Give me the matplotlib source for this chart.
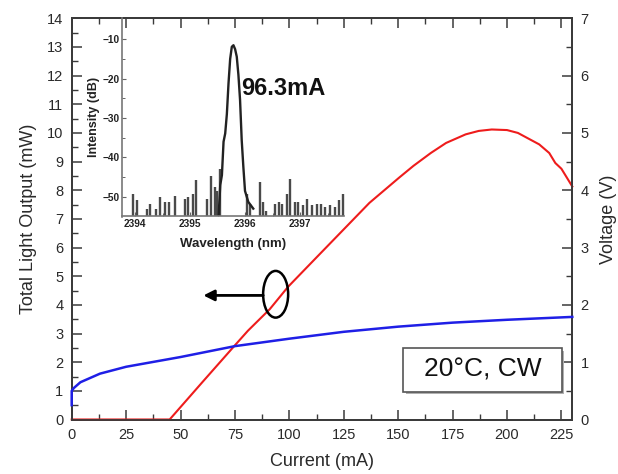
import matplotlib
matplotlib.use("Agg")
import matplotlib.pyplot as plt
from matplotlib.patches import Ellipse, Rectangle

plt.rcParams['font.family'] = ['Liberation Sans', 'DejaVu Sans']

# ---------------- data ----------------
light_current = [0, 45, 60, 75, 81, 91, 99.4, 112.4, 121.6, 136.8, 150.6, 157, 165, 172, 181, 187, 193, 200,
                 205, 214.8, 219.4, 222.2, 225, 230]
light_power = [0, 0, 1.3, 2.59, 3.1, 3.85, 4.63, 5.65, 6.37, 7.56, 8.45, 8.85, 9.3, 9.65, 9.95, 10.07, 10.12,
               10.1, 10.0, 9.6, 9.3, 8.95, 8.75, 8.13]

volt_current = [0, 0, 1, 4, 13, 25, 50, 75, 100, 125, 150, 175, 200, 230]
voltage = [0.25, 0.5, 0.55, 0.65, 0.8, 0.92, 1.09, 1.28, 1.41, 1.53, 1.62, 1.69, 1.74, 1.79]

peak_wl = [2395.52, 2395.55, 2395.58, 2395.61, 2395.64, 2395.67, 2395.70, 2395.73, 2395.76,
           2395.79, 2395.82, 2395.85, 2395.88, 2395.91, 2395.94, 2395.97, 2396.00, 2396.06, 2396.15]
peak_db = [-55, -47, -44.5, -36, -33.9, -29, -21.2, -15, -11.9, -11.5, -12.5, -14.4, -19, -25.4,
           -35.6, -42.4, -48.5, -51.3, -53]

noise_wl = [2393.97, 2394.03, 2394.21, 2394.27, 2394.39, 2394.45, 2394.55, 2394.61, 2394.73, 2394.91,
            2394.97, 2395.06, 2395.10, 2395.30, 2395.39, 2395.45, 2395.49, 2395.55, 2396.03, 2396.09,
            2396.27, 2396.33, 2396.39, 2396.55, 2396.61, 2396.67, 2396.76, 2396.82, 2396.91, 2396.97,
            2397.06, 2397.12, 2397.21, 2397.30, 2397.39, 2397.45, 2397.55, 2397.64, 2397.70, 2397.79]
noise_db = [-49.2, -50.9, -53.1, -51.8, -53.1, -50.1, -51.4, -51.4, -49.7, -50.5,
            -50.1, -49.2, -45.8, -50.5, -44.6, -47.5, -48.4, -42.9, -49.2, -51.8,
            -46.3, -51.4, -53.5, -51.8, -51.4, -51.8, -49.2, -45.4, -51.4, -51.4,
            -52.2, -50.5, -52.2, -51.8, -51.8, -52.6, -52.2, -52.6, -50.9, -49.2]

x_ticks = [0, 25, 50, 75, 100, 125, 150, 175, 200, 225]
y_ticks = list(range(0, 15))
v_ticks = list(range(0, 8))
inset_xticks = [2394, 2395, 2396, 2397]
inset_yticks = [-10, -20, -30, -40, -50]

# ---------------- figure ----------------
W, H = 618, 474
fig = plt.figure(figsize=(W / 100, H / 100), dpi=100)
ax = fig.add_axes([71.7 / W, 1 - 419.5 / H, (572.3 - 71.7) / W, (419.5 - 18.3) / H])
ax2 = ax.twinx()

spine_c = '#3a3a3a'
txt_c = '#2a2a2a'

ax.plot(light_current, light_power, color='#ee1c1c', lw=1.5, zorder=3, clip_on=False)
ax2.plot(volt_current, voltage, color='#1f1fe6', lw=1.8, zorder=3, clip_on=False)

ax.set_xlim(0, 230)
ax.set_ylim(0, 14)
ax2.set_ylim(0, 7)
ax.set_xticks(x_ticks)
ax.set_xticks([t + 12.5 for t in x_ticks], minor=True)
ax.set_yticks(y_ticks)
ax.set_yticks([t + 0.5 for t in y_ticks[:-1]], minor=True)
ax2.set_yticks(v_ticks)
ax2.set_yticks([t + 0.5 for t in v_ticks[:-1]], minor=True)
ax.set_xlim(0, 230)

for a in (ax, ax2):
    for s in a.spines.values():
        s.set_color(spine_c)
        s.set_linewidth(1.3)
ax.tick_params(axis='both', which='major', direction='in', length=7, width=1.1, color=spine_c,
               labelsize=10.5, labelcolor=txt_c, top=True, pad=6)
ax.tick_params(axis='both', which='minor', direction='in', length=4, width=1.0, color=spine_c, top=True)
ax2.tick_params(axis='y', which='major', direction='in', length=7, width=1.1, color=spine_c,
                labelsize=10.5, labelcolor=txt_c, pad=6)
ax2.tick_params(axis='y', which='minor', direction='in', length=4, width=1.0, color=spine_c)

ax.set_xlabel('Current (mA)', fontsize=13, color=txt_c, labelpad=8)
ax.set_ylabel('Total Light Output (mW)', fontsize=13, color=txt_c, labelpad=7)
ax2.set_ylabel('Voltage (V)', fontsize=13, color=txt_c, labelpad=8)

# ellipse + arrow annotation
ax.add_patch(Ellipse((93.7, 4.37), 11.5, 1.63, fill=False, edgecolor='black', lw=1.8, zorder=4))
ax.annotate('', xy=(60.5, 4.33), xytext=(88.0, 4.33),
            arrowprops=dict(arrowstyle='-|>', lw=2.0, color='black', mutation_scale=16,
                            shrinkA=0, shrinkB=0), zorder=4)

# label box
bx0, by0, bx1, by1 = 403.3, 348.3, 561.7, 391.7
fig.patches.append(Rectangle((bx0 / W + 2.5 / W, 1 - by1 / H - 2.5 / H), (bx1 - bx0) / W, (by1 - by0) / H,
                             transform=fig.transFigure, facecolor='#b0b0b0', edgecolor='none', zorder=5))
fig.patches.append(Rectangle((bx0 / W, 1 - by1 / H), (bx1 - bx0) / W, (by1 - by0) / H,
                             transform=fig.transFigure, facecolor='white', edgecolor='#555555',
                             lw=1.2, zorder=6))
fig.text((bx0 + bx1) / 2 / W, 1 - (by0 + by1) / 2 / H, '20\u00b0C, CW', fontsize=19, color='#111111',
         ha='center', va='center', zorder=7)

# ---------------- inset ----------------
ins = fig.add_axes([122.3 / W, 1 - 216.5 / H, (344.5 - 122.3) / W, (216.5 - 18.3) / H])
ins.patch.set_alpha(0)
ins.vlines(noise_wl, -55, noise_db, color='#4a4a4a', lw=1.7)
ins.plot(peak_wl, peak_db, color='#222222', lw=1.7)
ins.set_xlim(2393.769, 2397.809)
ins.set_ylim(-55, -4.66)
ins.set_xticks(inset_xticks)
ins.set_xticks([t + 0.5 for t in inset_xticks], minor=True)
ins.set_yticks(inset_yticks)
ins.set_yticks([t - 5 for t in inset_yticks[:-1]], minor=True)
ins.spines['top'].set_visible(False)
ins.spines['right'].set_visible(False)
for s in ('left', 'bottom'):
    ins.spines[s].set_color('#777777')
    ins.spines[s].set_linewidth(1.2)
ins.tick_params(axis='both', which='major', direction='in', length=3, width=0.8, color='#666666',
                labelsize=7.3, labelcolor='#222222', pad=2)
ins.tick_params(axis='both', which='minor', direction='in', length=2, width=0.7, color='#666666')
for lab in ins.get_xticklabels() + ins.get_yticklabels():
    lab.set_fontweight('bold')
ins.set_xlabel('Wavelength (nm)', fontsize=9.5, fontweight='bold', color='#222222', labelpad=6)
ins.set_ylabel('Intensity (dB)', fontsize=9, fontweight='bold', color='#222222', labelpad=2)
ins.text(2396.7, -22.5, '96.3mA', fontsize=17, fontweight='bold', color='#111111',
         ha='center', va='center')

fig.savefig('out.png', dpi=100)
